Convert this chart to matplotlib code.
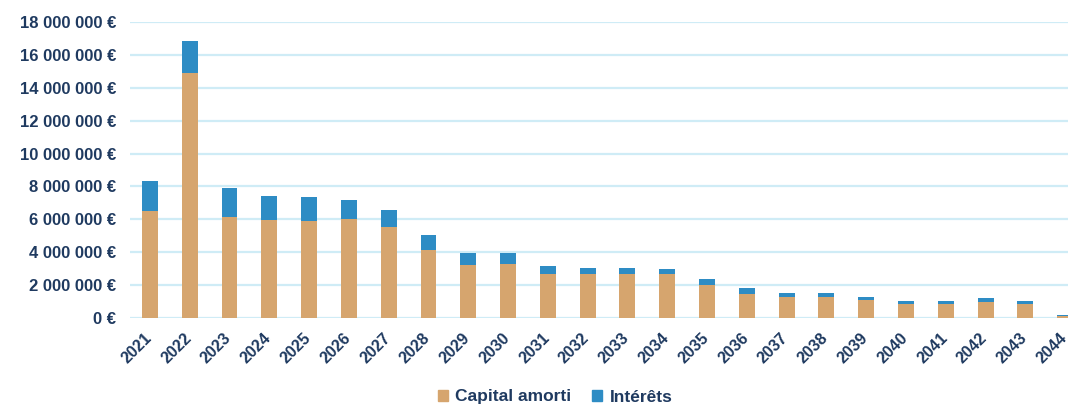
import matplotlib
matplotlib.use("Agg")
import matplotlib.pyplot as plt
import matplotlib.transforms as mtrans
from matplotlib.ticker import FuncFormatter
from matplotlib.patches import Patch

years = [str(y) for y in range(2021, 2045)]
capital = [6.5, 14.9, 6.15, 5.95, 5.9, 6.05, 5.55, 4.12, 3.2, 3.3, 2.7, 2.7,
           2.7, 2.7, 2.0, 1.45, 1.27, 1.27, 1.09, 0.85, 0.85, 0.97, 0.85, 0.12]
totals = [8.36, 16.85, 7.9, 7.4, 7.35, 7.2, 6.55, 5.03, 3.96, 3.96, 3.17, 3.07,
          3.07, 2.95, 2.36, 1.8, 1.53, 1.5, 1.29, 1.03, 1.03, 1.19, 1.05, 0.17]
interets = [t - c for t, c in zip(totals, capital)]
capital = [v * 1e6 for v in capital]
interets = [v * 1e6 for v in interets]

navy = "#1F3A60"
c_cap = "#D6A56E"
c_int = "#2E8CC4"
grid_c = "#CFECF6"

plt.rcParams['font.family'] = ['Liberation Sans', 'DejaVu Sans']

fig = plt.figure(figsize=(10.68, 4.05), dpi=100)
ax = fig.add_axes([130/1068, 87/405, 938/1068, (318-22)/405])

x = list(range(len(years)))
ax.bar(x, capital, width=0.4, color=c_cap, zorder=3)
ax.bar(x, interets, width=0.4, bottom=capital, color=c_int, zorder=3)

ax.set_ylim(0, 18e6)
ax.set_xlim(-0.5, 23.07)
ax.set_yticks([i * 2e6 for i in range(10)])
ax.yaxis.set_major_formatter(FuncFormatter(
    lambda v, p: "{:,.0f} €".format(v).replace(",", " ")))
ax.grid(axis='y', color=grid_c, linewidth=1.6, zorder=0)
for s in ax.spines.values():
    s.set_visible(False)
ax.tick_params(axis='both', length=0)
ax.tick_params(axis='y', pad=10, labelsize=12, labelcolor=navy)
ax.set_xticks(x)
ax.set_xticklabels(years, rotation=45, ha='right', rotation_mode='anchor',
                   fontsize=11.5, color=navy, fontweight='bold')
for lbl in ax.get_yticklabels():
    lbl.set_fontweight('bold')
ax.tick_params(axis='x', pad=9)
offset = mtrans.ScaledTranslation(-6/100, 0, fig.dpi_scale_trans)
for lbl in ax.get_xticklabels():
    lbl.set_transform(lbl.get_transform() + offset)

handles = [Patch(color=c_cap, label='Capital amorti'),
           Patch(color=c_int, label='Intérêts')]
leg = fig.legend(handles=handles, loc='center', bbox_to_anchor=(555/1068, 1 - 397/405),
                 ncol=2, frameon=False, handlelength=0.6, handleheight=0.6,
                 handletextpad=0.4, columnspacing=1.2,
                 prop={'size': 12.5, 'weight': 'bold'})
for t in leg.get_texts():
    t.set_color(navy)

fig.savefig("out.png", dpi=100)
